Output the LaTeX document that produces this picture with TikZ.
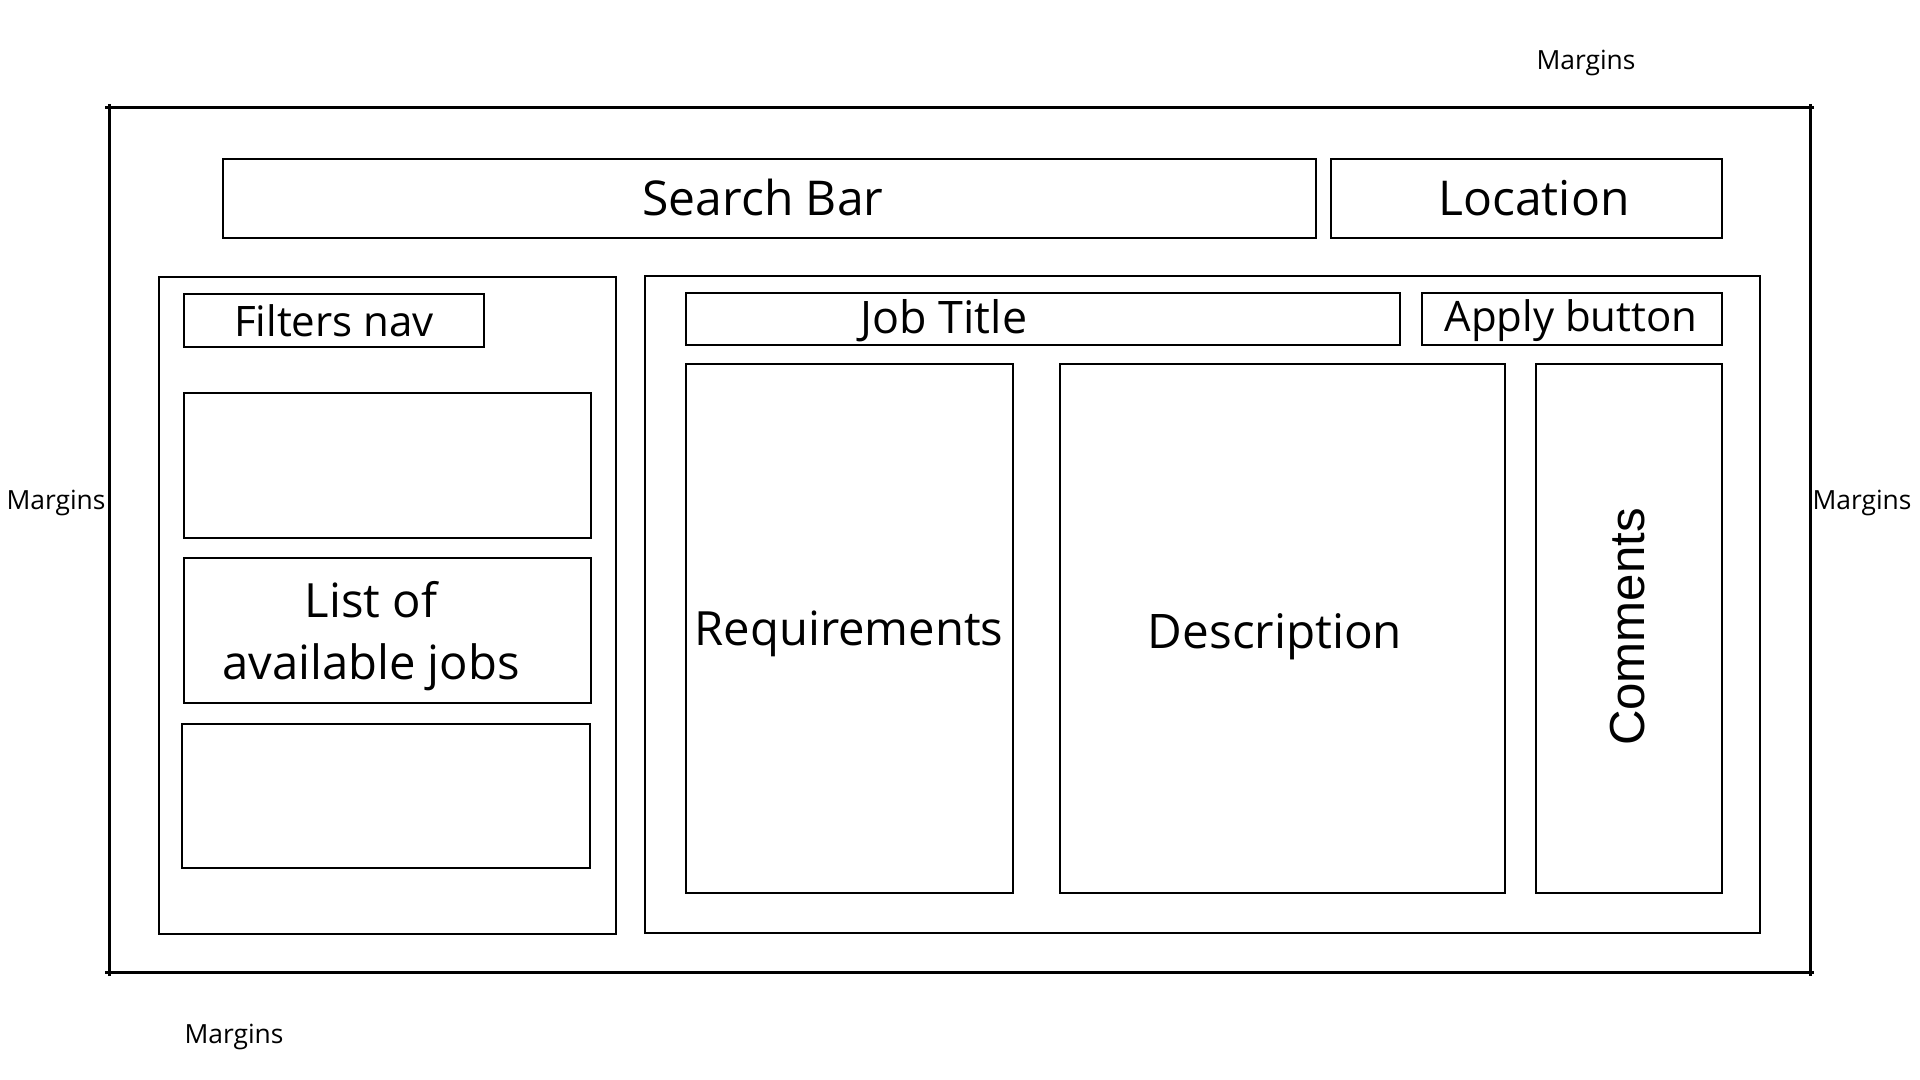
\documentclass[tikz,border=0pt]{standalone}
\usepackage{fontspec}
\setmainfont{Open Sans}
\newfontfamily\commentfont{Liberation Sans}
\usetikzlibrary{fit}
\begin{document}
\begin{tikzpicture}[x=0.5pt,y=-0.5pt,
  panel/.style={draw=black, line width=1pt, inner sep=0pt, fit={#1}},
  lbl/.style={inner sep=0pt, anchor=center, font=\fontsize{#1}{31}\selectfont, align=center},
  lbl/.default=22,
  biglbl/.style={inner sep=0pt, anchor=center, font=\fontsize{24}{30}\selectfont},
  note/.style={inner sep=0pt, anchor=center, font=\fontsize{13.2}{16}\selectfont}]
\useasboundingbox (0,0) rectangle (1920,1080);
\fill[white] (0,0) rectangle (1920,1080);

% page frame with small overhangs at the corners
\coordinate (tl) at (109,108);
\coordinate (tr) at (1810,108);
\coordinate (br) at (1810,972);
\coordinate (bl) at (109,972);
\begin{scope}[line width=1.5pt]
  \draw ([xshift=-2pt]tl) -- ([xshift=2pt]tr);
  \draw ([xshift=-2pt]bl) -- ([xshift=2pt]br);
  \draw ([yshift=2pt]tl) -- ([yshift=-2pt]bl);
  \draw ([yshift=2pt]tr) -- ([yshift=-2pt]br);
\end{scope}

% header
\node[panel={(223,159) (1316,238)}] (search) {};
\node[panel={(1331,159) (1722,238)}] (location) {};
\node[biglbl] (searchtxt) at (763,198) {Search Bar};
\node[biglbl] (locationtxt) at (1534,198) {Location};

% left column: filters and job list
\node[panel={(159,277) (616,934)}] (left) {};
\node[panel={(184,294) (484,347)}] (filters) {};
\node[panel={(184,393) (591,538)}] (job1) {};
\node[panel={(184,558) (591,703)}] (job2) {};
\node[panel={(182,724) (590,868)}] (job3) {};
\node[lbl=21] (filterstxt) at (334,321) {Filters nav};
\node[lbl=23.6] (jobstxt) at (371,636) {List of\\available jobs};

% right column: job details
\node[panel={(645,276) (1760,933)}] (right) {};
\node[panel={(686,293) (1400,345)}] (title) {};
\node[panel={(1422,293) (1722,345)}] (apply) {};
\node[panel={(686,364) (1013,893)}] (req) {};
\node[panel={(1060,364) (1505,893)}] (desc) {};
\node[panel={(1536,364) (1722,893)}] (comm) {};
\node[lbl=22.4] (titletxt) at (944,321) {Job Title};
\node[lbl=21] (applytxt) at (1571,321) {Apply button};
\node[lbl=23.6] (reqtxt) at (849,634) {Requirements};
\node[lbl=23.8] (desctxt) at (1275,637) {Description};
\node[lbl, font=\commentfont\fontsize{24.6}{28}\selectfont, rotate=90] (commtxt) at (1628,627) {Comments};

% margin notes
\node[note] (mtop) at (1586,63) {Margins};
\node[note] (mleft) at (56,503) {Margins};
\node[note] (mright) at (1862,503) {Margins};
\node[note] (mbottom) at (234,1037) {Margins};
\end{tikzpicture}
\end{document}
